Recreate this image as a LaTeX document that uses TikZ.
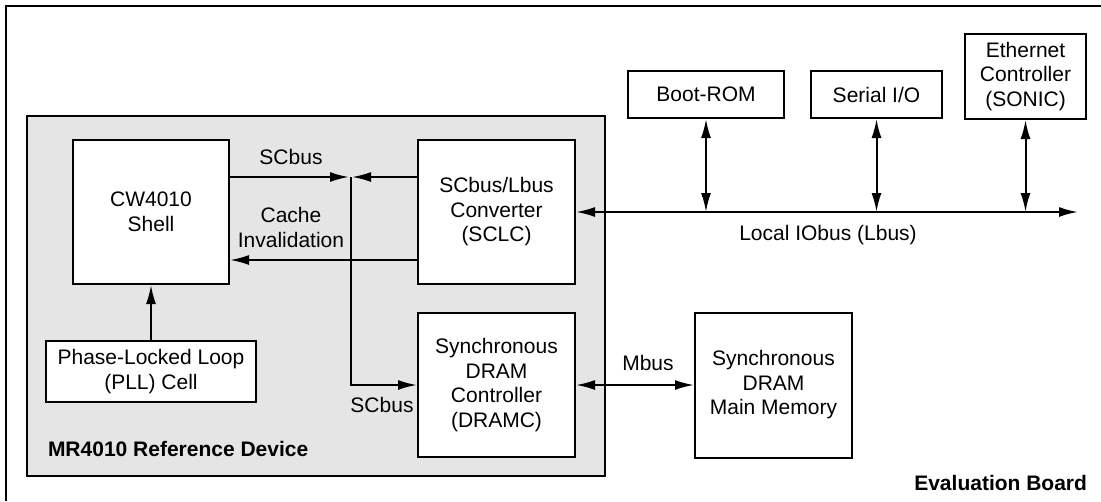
\documentclass[tikz,border=0pt]{standalone}
\usepackage{fontspec}
\setmainfont{Liberation Sans}
\usetikzlibrary{arrows.meta}
\definecolor{devgray}{gray}{0.9}

\begin{document}
\begin{tikzpicture}[x=1pt,y=-1pt,line width=2pt,
	>={Latex[length=19pt,width=10pt]},
	every node/.style={font=\fontsize{21}{24.5}\selectfont,align=center},
	blk/.style={draw,fill=white,inner sep=0pt},
	lbl/.style={inner sep=0pt}]
	\useasboundingbox (0,0) rectangle (1101,501);
	\draw (6,501) -- (6,6) -- (1101,6);%board frame
	\draw[fill=devgray] (27,116) rectangle (605,476);%reference device

	\node[blk,minimum width=156pt,minimum height=144pt] (shell) at (151,212) {CW4010\\Shell};
	\node[blk,minimum width=210pt,minimum height=61pt] (pll) at (151,371.5) {Phase-Locked Loop\\(PLL) Cell};
	\node[blk,minimum width=157pt,minimum height=144pt] (sclc) at (496.5,212) {SCbus/Lbus\\Converter\\(SCLC)};
	\node[blk,minimum width=157pt,minimum height=144pt] (dramc) at (496.5,385) {Synchronous\\DRAM\\Controller\\(DRAMC)};
	\node[blk,minimum width=157pt,minimum height=145pt] (mem) at (773.5,385) {Synchronous\\DRAM\\Main Memory};
	\node[blk,minimum width=156pt,minimum height=47pt] (boot) at (706,94.5) {Boot-ROM};
	\node[blk,minimum width=131pt,minimum height=47pt] (sio) at (876.5,94.5) {Serial I/O};
	\node[blk,minimum width=121pt,minimum height=85pt] (eth) at (1025.5,76.5) {Ethernet\\Controller\\(SONIC)};

	\coordinate (j1) at (351,177);%SCbus junction
	\coordinate (ci) at (300,260);%cache invalidation level
	\coordinate (lend) at (1078,212);%end of Lbus

	\draw[->,shorten >=2pt] (shell.east |- j1) -- (j1);
	\draw[->,shorten >=1pt] (sclc.west |- j1) -- (j1);
	\draw[->] (j1) |- (dramc.west);
	\draw[->] (sclc.west |- ci) -- (shell.east |- ci);
	\draw[->] (pll) -- (shell);
	\draw[<->] (sclc.east) -- (sclc.east -| lend);%Lbus
	\draw[<->] (boot) -- (boot.south |- lend);
	\draw[<->] (sio) -- (sio.south |- lend);
	\draw[<->] (eth) -- (eth.south |- lend);
	\draw[<->] (dramc.east) -- (mem.west);%Mbus

	\node[lbl] (scbusa) at (291,157) {SCbus};
	\node[lbl] (cinv) at (291,227.5) {Cache\\Invalidation};
	\node[lbl] (scbusb) at (382,405) {SCbus};
	\node[lbl] (mbus) at (648,363) {Mbus};
	\node[lbl] (lbus) at (828,235) {Local IObus (Lbus)};
	\node[lbl,anchor=west,font=\fontsize{21}{24.5}\selectfont\bfseries] (dev) at (47,449) {MR4010 Reference Device};
	\node[lbl,anchor=east,font=\fontsize{21}{24.5}\selectfont\bfseries] (board) at (1088,483) {Evaluation Board};
\end{tikzpicture}
\end{document}
